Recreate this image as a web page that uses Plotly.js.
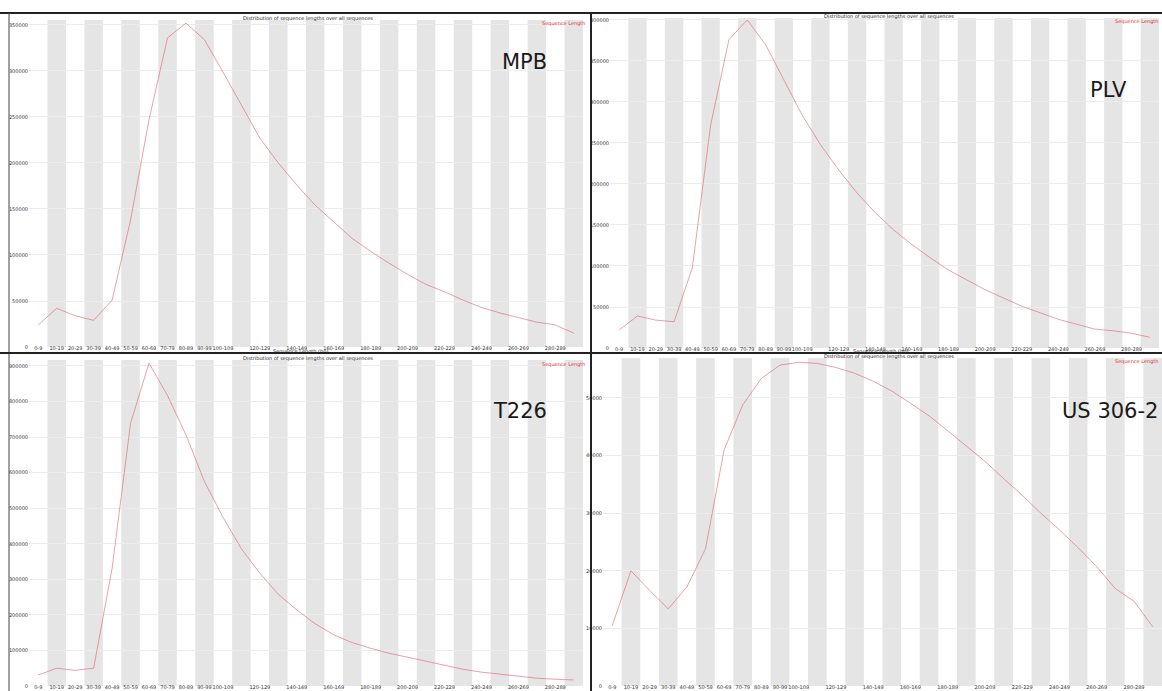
<!DOCTYPE html>
<html>
<head>
<meta charset="utf-8">
<script src="https://cdn.plot.ly/plotly-3.0.1.min.js"></script>
<style>html,body{margin:0;padding:0;background:#fff;}#chart{width:1162px;height:691px;}</style>
</head>
<body>
<div id="chart"></div>
<script>
// ---- data ----
const categories = ['0-9','10-19','20-29','30-39','40-49','50-59','60-69','70-79','80-89','90-99',
  '100-109','110-119','120-129','130-139','140-149','150-159','160-169','170-179','180-189','190-199',
  '200-209','210-219','220-229','230-239','240-249','250-259','260-269','270-279','280-289','290-299'];
const shownLabels = ['0-9','10-19','20-29','30-39','40-49','50-59','60-69','70-79','80-89','90-99',
  '100-109','120-129','140-149','160-169','180-189','200-209','220-229','240-249','260-269','280-289'];
const panelNames = ['MPB','PLV','T226','US 306-2'];
const mpb = [24000,42000,34000,29000,51000,138000,247000,336000,352000,334000,299000,263000,227000,200000,176000,
  154000,136000,118000,104000,91000,79000,68000,60000,51000,43000,37000,32000,27000,24000,15000];
const plv = [22000,39000,34000,32000,98000,272000,376000,400000,370000,327000,284000,248000,217000,189000,165000,
  144000,126000,110000,95000,83000,71000,61000,51000,43000,35000,29000,23000,21000,18000,13000];
const t226 = [31000,50000,44000,50000,331000,739000,908000,817000,706000,575000,475000,386000,317000,258000,214000,
  175000,144000,122000,106000,92000,81000,69000,58000,47000,39000,33000,28000,22000,19000,17000];
const us3062 = [10500,20000,16600,13400,17200,23800,41000,48800,53400,55700,56200,56000,55300,54300,52900,
  51200,49100,46900,44300,41700,39000,36000,33100,30000,27100,24000,20700,16900,14700,10300];
const yTicks = [
  [0,50000,100000,150000,200000,250000,300000,350000],
  [0,50000,100000,150000,200000,250000,300000,350000,400000],
  [0,100000,200000,300000,400000,500000,600000,700000,800000,900000],
  [0,10000,20000,30000,40000,50000]
];
const seriesList = [mpb, plv, t226, us3062];
const titleText = 'Distribution of sequence lengths over all sequences';
const legendText = 'Sequence Length';
const xTitle = 'Sequence Length (bp)';

// ---- layout geometry (pixels) ----
const W = 1162, H = 691;
const panels = [
  {x0:29,  x1:583,  yb:347, yt:20,  top:355400},
  {x0:610, x1:1159, yb:348, yt:18,  top:402400},
  {x0:29,  x1:583,  yb:686, yt:360, top:916800},
  {x0:603, x1:1162, yb:686, yt:358, top:56940}
];
const nameLabelPos = [[524,62],[1108,90],[520,411],[1110,411]];

const traces = [];
const layout = {
  width: W, height: H, margin:{l:0,r:0,t:0,b:0},
  paper_bgcolor:'#ffffff', plot_bgcolor:'#ffffff',
  showlegend:false, shapes:[], annotations:[],
  font:{family:'DejaVu Sans, Arial, sans-serif', size:5, color:'#333'}
};

panels.forEach((p, k) => {
  const ax = k === 0 ? '' : String(k+1);
  traces.push({
    x: categories, y: seriesList[k], type:'scatter', mode:'lines',
    xaxis:'x'+ax, yaxis:'y'+ax,
    line:{color:'rgba(228,95,110,0.6)', width:1}, hoverinfo:'skip'
  });
  layout['xaxis'+ax] = {
    domain:[p.x0/W, p.x1/W], anchor:'y'+ax, type:'category',
    categoryorder:'array', categoryarray: categories,
    range:[-0.5, categories.length-0.5],
    tickmode:'array', tickvals: shownLabels, ticktext: shownLabels,
    tickfont:{size:5, color:'#333'}, ticks:'', showgrid:false, zeroline:false, showline:false,
    tickangle:0, ticklabelstandoff:-3
  };
  layout['yaxis'+ax] = {
    domain:[1-p.yb/H, 1-p.yt/H], anchor:'x'+ax,
    range:[0, p.top], tickmode:'array', tickvals: yTicks[k],
    ticktext: yTicks[k].map(String),
    tickfont:{size:5, color:'#333'}, ticks:'', showgrid:true, gridcolor:'#ececec', gridwidth:1,
    zeroline:false, showline:false
  };
  // alternating bands
  categories.forEach((c, i) => {
    if (i % 2 === 1) {
      layout.shapes.push({type:'rect', xref:'x'+ax, yref:'y'+ax+' domain',
        x0:i-0.5, x1:i+0.5, y0:0, y1:1, fillcolor:'#e5e5e5', line:{width:0}, layer:'below'});
    }
  });
  layout.annotations.push({xref:'paper', yref:'paper', x:(k%2===0?308:889)/W, y:1-(p.yt-2)/H,
    text:titleText, showarrow:false, font:{size:5, color:'#222'}, xanchor:'center', yanchor:'middle'});
  layout.annotations.push({xref:'paper', yref:'paper', x:(k%2===0?588:1161)/W, y:1-(p.yt+4)/H,
    text:legendText, showarrow:false, font:{size:5, color:'#e0303a'}, xanchor:'right', yanchor:'middle'});
  layout.annotations.push({xref:'paper', yref:'paper', x:nameLabelPos[k][0]/W, y:1-nameLabelPos[k][1]/H,
    text:panelNames[k], showarrow:false, font:{size:21, color:'#1a1a1a', family:'DejaVu Sans, sans-serif'},
    xanchor:'center', yanchor:'middle'});
  if (k < 2) {
    layout.annotations.push({xref:'paper', yref:'paper', x:(k===0?300:880)/W, y:1-352/H,
      text:xTitle, showarrow:false, font:{size:5, color:'#222'}, xanchor:'center', yanchor:'middle'});
  }
});

// panel borders
const bl = {color:'#222', width:2};
layout.shapes.push({type:'line', xref:'paper', yref:'paper', x0:0, x1:1, y0:1-13/H, y1:1-13/H, line:bl});
layout.shapes.push({type:'line', xref:'paper', yref:'paper', x0:0, x1:1, y0:1-353/H, y1:1-353/H, line:bl});
layout.shapes.push({type:'line', xref:'paper', yref:'paper', x0:591/W, x1:591/W, y0:0, y1:1-13/H, line:bl});
layout.shapes.push({type:'line', xref:'paper', yref:'paper', x0:9/W, x1:9/W, y0:1-352/H, y1:1-13/H, line:{color:'#444', width:1}});
layout.shapes.push({type:'line', xref:'paper', yref:'paper', x0:9/W, x1:9/W, y0:0, y1:1-354/H, line:{color:'#444', width:1}});

Plotly.newPlot('chart', traces, layout, {displayModeBar:false, staticPlot:true});
</script>
</body>
</html>
